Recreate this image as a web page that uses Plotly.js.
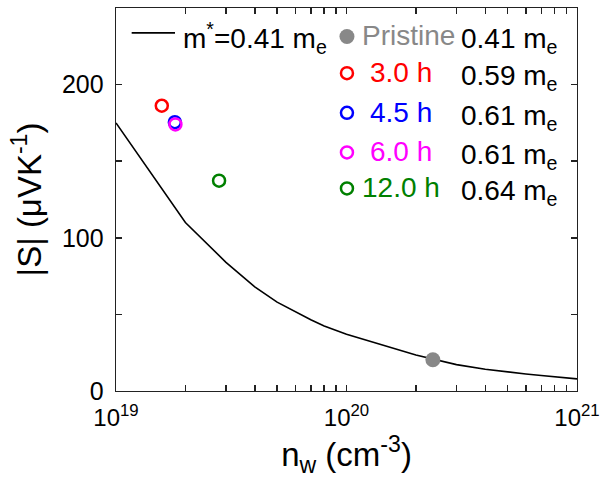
<!DOCTYPE html>
<html><head><meta charset="utf-8">
<script src="https://cdn.plot.ly/plotly-3.0.1.min.js"></script>
<style>html,body{margin:0;padding:0;background:#fff}#chart{width:600px;height:485px}</style>
</head><body><div id="chart"></div>
<script>
// ---- data ----
const curveN = [1e19,2e19,3e19,4e19,5e19,6e19,7e19,8e19,9e19,1e20,2e20,3e20,4e20,5e20,6e20,7e20,8e20,9e20,1e21];
const curveS = [175,110,84,68,58,51.5,46.5,42.5,39.5,37,23.5,17.2,14.2,12.3,11.1,10.1,9.2,8.5,7.9];
const curveLabel = 'm<sup>*</sup>=0.41 m<sub>e</sub>';
const sampleLabels = ['Pristine','3.0 h','4.5 h','6.0 h','12.0 h'];
const sampleN = [2.37e20,1.58e19,1.80e19,1.81e19,2.80e19];
const sampleS = [20.4,186.2,175.5,174.0,137.3];
const effMass = ['0.41','0.59','0.61','0.61','0.64'];
const xTickVals = [1e19,2e19,3e19,4e19,5e19,6e19,7e19,8e19,9e19,1e20,2e20,3e20,4e20,5e20,6e20,7e20,8e20,9e20,1e21];
const xTickText = ['10<sup>19</sup>','','','','','','','','','10<sup>20</sup>','','','','','','','','','10<sup>21</sup>'];
const yTickVals = [0,50,100,150,200];
const yTickText = ['0','','100','','200'];

// ---- styles ----
const sampleColors = ['#888888','#ff0000','#0000ff','#ff00ff','#008000'];
const FONT = 'Liberation Sans, Arial, sans-serif';
const drawOrder = [1,2,3,4,0];
const rowY = [0.9254,0.8298,0.7264,0.6230,0.5288];

const traces = [];
traces.push({x:curveN, y:curveS, mode:'lines', type:'scatter', line:{color:'#000',width:1.6}, showlegend:false, hoverinfo:'skip'});
drawOrder.forEach(i=>{
  const filled = i===0;
  traces.push({x:[sampleN[i]], y:[sampleS[i]], mode:'markers', type:'scatter', showlegend:false,
    marker: filled ? {size:15,color:sampleColors[i],line:{width:0}}
                   : {size:12,color:'rgba(0,0,0,0)',line:{color:sampleColors[i],width:2.5}}});
});
// legend glyphs on helper axes
traces.push({x:[0.034,0.128], y:[0.935,0.935], xaxis:'x2', yaxis:'y2', mode:'lines', line:{color:'#000',width:1.6}, showlegend:false});
sampleLabels.forEach((l,i)=>{
  const filled = i===0;
  traces.push({x:[0.501], y:[rowY[i]], xaxis:'x2', yaxis:'y2', mode:'markers', showlegend:false,
    marker: filled ? {size:15,color:sampleColors[i],line:{width:0}}
                   : {size:12,color:'rgba(0,0,0,0)',line:{color:sampleColors[i],width:2.5}}});
});

const LF = 28;
const ann = [];
ann.push({xref:'x2',yref:'y2',x:0.141,y:0.922,xanchor:'left',yanchor:'middle',text:curveLabel,showarrow:false,font:{family:FONT,size:LF,color:'#000'}});
sampleLabels.forEach((l,i)=>{
  if(i===0){
    ann.push({xref:'x2',yref:'y2',x:0.530,y:rowY[i]+0.002,xanchor:'left',yanchor:'middle',text:l,showarrow:false,font:{family:FONT,size:LF,color:sampleColors[i]}});
  } else {
    ann.push({xref:'x2',yref:'y2',x:0.618,y:rowY[i]+0.002,xanchor:'center',yanchor:'middle',text:l,showarrow:false,font:{family:FONT,size:LF,color:sampleColors[i]}});
  }
  ann.push({xref:'x2',yref:'y2',x:0.745,y:rowY[i]-0.011,xanchor:'left',yanchor:'middle',text:effMass[i]+' m<sub>e</sub>',showarrow:false,font:{family:FONT,size:LF,color:'#000'}});
});

const layout = {
  width:600, height:485,
  margin:{l:116,r:23,t:8,b:94,pad:0},
  paper_bgcolor:'#fff', plot_bgcolor:'#fff',
  font:{family:FONT,color:'#000'},
  showlegend:false,
  xaxis:{type:'log', range:[18.99999,21.00001], tickmode:'array', tickvals:xTickVals, ticktext:xTickText,
    ticks:'inside', ticklen:6, tickwidth:1.5, tickcolor:'#222',
    showline:true, linecolor:'#222', linewidth:1.3, mirror:'ticks', showgrid:false, zeroline:false,
    tickfont:{family:FONT,size:24,color:'#000'}, ticklabelstandoff:5, ticklabeloverflow:'allow',
    title:{text:'n<sub>w</sub> (cm<sup>-3</sup>)', font:{family:FONT,size:33,color:'#000'}, standoff:4},
    automargin:false},
  yaxis:{range:[0,250], tickmode:'array', tickvals:yTickVals, ticktext:yTickText,
    ticks:'inside', ticklen:6, tickwidth:1.5, tickcolor:'#222',
    showline:true, linecolor:'#222', linewidth:1.3, mirror:'ticks', showgrid:false, zeroline:false,
    tickfont:{family:FONT,size:25,color:'#000'}, ticklabelstandoff:6,
    title:{text:'|S| (μVK<sup>-1</sup>)', font:{family:FONT,size:33,color:'#000'}, standoff:10},
    automargin:false},
  xaxis2:{overlaying:'x', range:[0,1], visible:false, fixedrange:true},
  yaxis2:{overlaying:'y', range:[0,1], visible:false, fixedrange:true},
  annotations:ann
};
Plotly.newPlot('chart', traces, layout, {displayModeBar:false, staticPlot:true});
</script></body></html>
